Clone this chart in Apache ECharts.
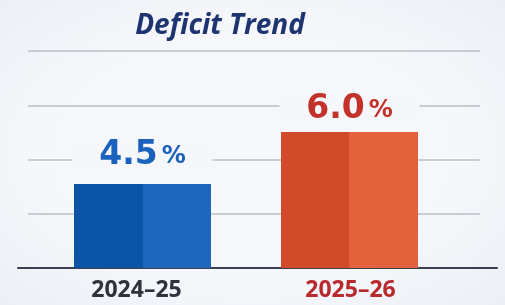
<!DOCTYPE html>
<html>
<head>
<meta charset="utf-8">
<script src="https://cdn.jsdelivr.net/npm/echarts@6/dist/echarts.min.js"></script>
<style>
  html, body { margin: 0; padding: 0; }
  body { background: radial-gradient(ellipse at 50% 50%, #f6f8fb 0%, #f5f7fb 60%, #eceff5 100%); }
  #chart { width: 505px; height: 305px; }
</style>
</head>
<body>
<div id="chart"></div>
<script>
const categories = ['2024–25', '2025–26'];
const deficitPct = [4.5, 6.0];
const gridSteps = [0, 1, 2, 3, 4];

const chart = echarts.init(document.getElementById('chart'));

const barColors = [
  ['#0b54a6', '#1f67bd'],
  ['#d14a29', '#e3623b'],
];
const labelColors = ['#1a62bd', '#c2322a'];
const catColors = ['#2d323d', '#b8292e'];
const labelGap = [16, 10];
const catShift = [[0, 12, 0, 0], [0, 0, 0, 2]];

function twoTone(c) {
  return {
    type: 'linear', x: 0, y: 0, x2: 1, y2: 0,
    colorStops: [
      { offset: 0, color: c[0] }, { offset: 0.5, color: c[0] },
      { offset: 0.5, color: c[1] }, { offset: 1, color: c[1] },
    ],
  };
}

const option = {
  backgroundColor: 'transparent',
  animation: false,
  title: {
    text: 'Deficit Trend',
    left: 215,
    top: 7,
    textAlign: 'center',
    textStyle: {
      fontFamily: 'Open Sans',
      fontStyle: 'italic',
      fontWeight: 'bold',
      fontSize: 28,
      color: '#1e3471',
    },
  },
  grid: [
    { left: 18, right: 8, top: 51, bottom: 37 },   // axis line
    { left: 28, right: 25, top: 51, bottom: 37 },  // gridlines
    { left: 39, width: 414, top: 51, bottom: 37 }, // bars
  ],
  xAxis: [
    {
      gridIndex: 0, type: 'category', data: categories,
      axisLine: { lineStyle: { color: '#3a4152', width: 2 } },
      axisTick: { show: false }, axisLabel: { show: false },
    },
    { gridIndex: 1, type: 'category', data: categories, show: false },
    {
      gridIndex: 2, type: 'category',
      data: categories.map((c, i) => ({ value: c, textStyle: { padding: catShift[i] } })),
      axisLine: { show: false }, axisTick: { show: false },
      axisLabel: {
        margin: 11,
        fontFamily: 'Open Sans',
        fontWeight: 'bold',
        fontSize: 23,
        color: (v, i) => catColors[i],
      },
    },
  ],
  yAxis: [
    { gridIndex: 0, type: 'value', show: false },
    {
      gridIndex: 1, type: 'value',
      min: gridSteps[0], max: gridSteps[gridSteps.length - 1], interval: 1,
      axisLine: { show: false }, axisTick: { show: false }, axisLabel: { show: false },
      splitLine: { lineStyle: { color: '#c8ccd5', width: 2 } },
    },
    {
      gridIndex: 2, type: 'value', min: 2.08, max: 8.34,
      axisLine: { show: false }, axisTick: { show: false }, axisLabel: { show: false },
      splitLine: { show: false },
    },
  ],
  series: [
    {
      type: 'bar',
      xAxisIndex: 2, yAxisIndex: 2,
      barWidth: 137,
      z: 3,
      data: deficitPct.map((v, i) => {
        const txt = { fontFamily: 'DejaVu Sans', fontWeight: 'bold', color: labelColors[i], lineHeight: 26 };
        return {
          value: v,
          itemStyle: { color: twoTone(barColors[i]) },
          label: {
            distance: labelGap[i],
            formatter: '{n|' + v.toFixed(1) + '}{p|%}',
            rich: {
              n: Object.assign({}, txt, { fontSize: 33 }),
              p: Object.assign({}, txt, { fontSize: 24, padding: [3, 0, 0, 4] }),
            },
          },
        };
      }),
      label: {
        show: true,
        position: 'top',
        width: 140,
        align: 'center',
        backgroundColor: '#f5f7fb',
      },
    },
  ],
};

chart.setOption(option);
</script>
</body>
</html>
